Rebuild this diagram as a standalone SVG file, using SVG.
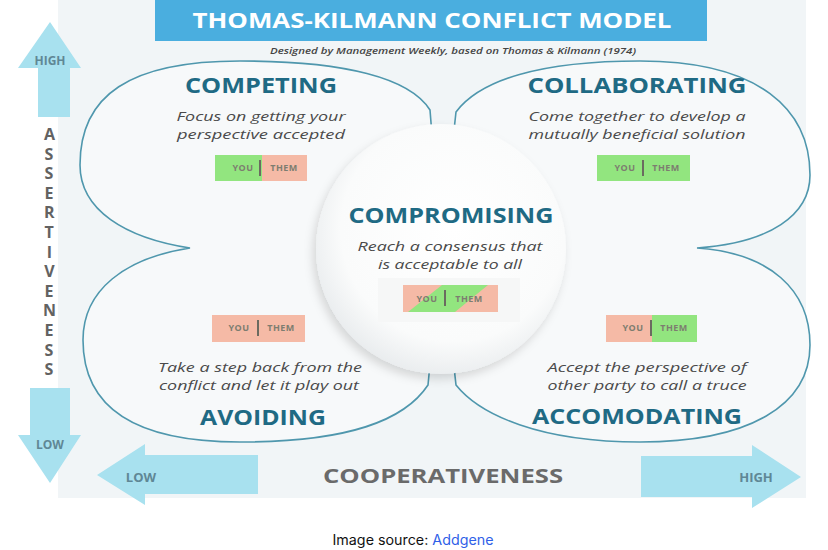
<svg xmlns="http://www.w3.org/2000/svg" width="828" height="550" viewBox="0 0 828 550">
<defs>
<style>
.hdr{font-family:"Open Sans","Liberation Sans",sans-serif;font-weight:700;font-size:21px;fill:#1f6a84;text-anchor:middle}
.desc{font-family:"Open Sans","Liberation Sans",sans-serif;font-style:italic;font-size:13.5px;fill:#4a4a4a;text-anchor:middle}
.bt{font-family:"Open Sans","Liberation Sans",sans-serif;font-weight:700;font-size:9px;fill:#7d7d70;text-anchor:middle;letter-spacing:0.5px}
.ax{font-family:"Open Sans","Liberation Sans",sans-serif;font-weight:700;fill:#5f8795;text-anchor:middle}
.arrow{fill:#a8e1ef}
.green{fill:#92e57f}
.salmon{fill:#f5baa6}
.sep{fill:#6b6b60}
.vert{font-family:"Open Sans","Liberation Sans",sans-serif;font-weight:700;font-size:16px;fill:#626262;writing-mode:vertical-rl;text-orientation:upright;letter-spacing:-2.4px}
</style>
<radialGradient id="cg" cx="0.55" cy="0.42" r="0.6">
<stop offset="0" stop-color="#ffffff"/>
<stop offset="0.75" stop-color="#fafbfb"/>
<stop offset="1" stop-color="#e9ecee"/>
</radialGradient>
<filter id="sh" x="-20%" y="-20%" width="140%" height="140%">
<feDropShadow dx="-3" dy="5" stdDeviation="5" flood-color="#000" flood-opacity="0.14"/>
</filter>
</defs>
<rect x="0" y="0" width="828" height="550" fill="#ffffff"/>
<rect x="58" y="0" width="748" height="498" fill="#f1f5f7"/>

<g id="title">
<rect x="155" y="0" width="552" height="41" fill="#4aaedf"/>
<text x="432" y="28" font-family="'Open Sans','Liberation Sans',sans-serif" font-weight="700" font-size="21" fill="#ffffff" text-anchor="middle" textLength="479" lengthAdjust="spacingAndGlyphs">THOMAS-KILMANN CONFLICT MODEL</text>
<text x="453" y="54" font-family="'Open Sans','Liberation Sans',sans-serif" font-style="italic" font-weight="600" font-size="9" fill="#444" text-anchor="middle" textLength="366" lengthAdjust="spacingAndGlyphs">Designed by Management Weekly, based on Thomas &amp; Kilmann (1974)</text>
</g>

<g id="connectors">
<path d="M 190 248 C 125 238, 80 210, 80 165 C 80 95, 130 61, 240 61 C 345 61, 410 78, 430 110 L 441 249 L 456 112 C 480 80, 540 61, 640 61 C 760 61, 810 110, 810 175 C 810 215, 770 243, 697 248 C 770 253, 810 290, 810 345 C 810 405, 750 442, 640 442 C 540 442, 480 415, 456 385 L 441 249 L 428 385 C 405 420, 350 442, 240 442 C 130 442, 83 405, 83 340 C 83 290, 125 258, 190 248 Z" fill="#f7f9fa" stroke="#4f97ad" stroke-width="1.6"/>
</g>

<g id="node-competing">
<text class="hdr" x="261" y="93" textLength="152" lengthAdjust="spacingAndGlyphs">COMPETING</text>
<text class="desc" x="261" y="121" textLength="169" lengthAdjust="spacingAndGlyphs">Focus on getting your</text>
<text class="desc" x="261" y="139" textLength="168" lengthAdjust="spacingAndGlyphs">perspective accepted</text>
<rect class="green" x="215" y="155" width="47" height="26"/>
<rect class="salmon" x="262" y="155" width="45" height="26"/>
<rect class="sep" x="259" y="160" width="2" height="16"/>
<text class="bt" x="243" y="171">YOU</text>
<text class="bt" x="284" y="171">THEM</text>
</g>

<g id="node-collaborating">
<text class="hdr" x="637" y="93" textLength="219" lengthAdjust="spacingAndGlyphs">COLLABORATING</text>
<text class="desc" x="637" y="121" textLength="217" lengthAdjust="spacingAndGlyphs">Come together to develop a</text>
<text class="desc" x="637" y="139" textLength="217" lengthAdjust="spacingAndGlyphs">mutually beneficial solution</text>
<rect class="green" x="597" y="155" width="93" height="26"/>
<rect class="sep" x="642" y="160" width="2" height="16"/>
<text class="bt" x="625" y="171">YOU</text>
<text class="bt" x="666" y="171">THEM</text>
</g>

<g id="node-avoiding">
<rect class="salmon" x="212" y="315" width="93" height="27"/>
<rect class="sep" x="257" y="320" width="2" height="16"/>
<text class="bt" x="239" y="331">YOU</text>
<text class="bt" x="281" y="331">THEM</text>
<text class="desc" x="260" y="372" textLength="204" lengthAdjust="spacingAndGlyphs">Take a step back from the</text>
<text class="desc" x="259" y="390" textLength="200" lengthAdjust="spacingAndGlyphs">conflict and let it play out</text>
<text class="hdr" x="263" y="425" textLength="126" lengthAdjust="spacingAndGlyphs">AVOIDING</text>
</g>

<g id="node-accommodating">
<rect class="salmon" x="606" y="315" width="46" height="27"/>
<rect class="green" x="652" y="315" width="45" height="27"/>
<rect class="sep" x="650" y="320" width="2" height="16"/>
<text class="bt" x="633" y="331">YOU</text>
<text class="bt" x="674" y="331">THEM</text>
<text class="desc" x="647" y="372" textLength="199" lengthAdjust="spacingAndGlyphs">Accept the perspective of</text>
<text class="desc" x="647" y="390" textLength="199" lengthAdjust="spacingAndGlyphs">other party to call a truce</text>
<text class="hdr" x="637" y="424" textLength="210" lengthAdjust="spacingAndGlyphs">ACCOMODATING</text>
</g>

<g id="node-compromising">
<circle cx="441" cy="249" r="125" fill="url(#cg)" filter="url(#sh)"/>
<text class="hdr" x="451" y="223" textLength="205" lengthAdjust="spacingAndGlyphs">COMPROMISING</text>
<text class="desc" x="450" y="251" textLength="185" lengthAdjust="spacingAndGlyphs">Reach a consensus that</text>
<text class="desc" x="450" y="269" textLength="144" lengthAdjust="spacingAndGlyphs">is acceptable to all</text>
<rect x="378" y="278" width="142" height="44" fill="#f6f7f7"/>
<rect class="salmon" x="403" y="285" width="95" height="27"/>
<polygon class="green" points="442,285 488,285 455,312 408,312"/>
<rect class="sep" x="444" y="290" width="2" height="16"/>
<text class="bt" x="427" y="302">YOU</text>
<text class="bt" x="469" y="302">THEM</text>
</g>

<g id="axis-assertiveness">
<polygon class="arrow" points="50,22 81,68 70,68 70,117 38,117 38,68 18,68"/>
<text class="ax" x="50" y="65" font-size="12">HIGH</text>
<text class="vert" x="49" y="123">ASSERTIVENESS</text>
<polygon class="arrow" points="30,388 70,388 70,435 81,435 50,483 18,435 30,435"/>
<text class="ax" x="50" y="449" font-size="12">LOW</text>
</g>

<g id="axis-cooperativeness">
<polygon class="arrow" points="97,475 145,444 145,455 258,455 258,494 145,494 145,505"/>
<text class="ax" x="141" y="482" font-size="13">LOW</text>
<text x="443" y="483" font-family="'Open Sans','Liberation Sans',sans-serif" font-weight="700" font-size="19" fill="#6a6a6a" text-anchor="middle" textLength="240" lengthAdjust="spacingAndGlyphs">COOPERATIVENESS</text>
<polygon class="arrow" points="641,456 752,456 752,445 801,477 752,508 752,497 641,497"/>
<text class="ax" x="756" y="482" font-size="13">HIGH</text>
</g>

<g id="caption">
<text x="413" y="545" font-family="Inter,'Open Sans','Liberation Sans',sans-serif" font-size="14" fill="#111" text-anchor="middle" textLength="161" lengthAdjust="spacingAndGlyphs">Image source: <tspan fill="#2f5fe8">Addgene</tspan></text>
</g>
</svg>
